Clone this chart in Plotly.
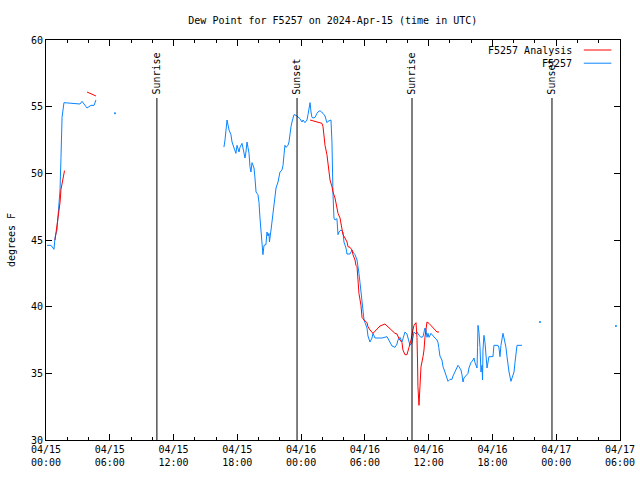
import pandas as pd
import plotly.graph_objects as go

BASE = pd.Timestamp("2024-04-15 00:00")

# Observed dew point (F5257), hours after 04/15 00:00 UTC; None = gap
obs_hours = [0.1, 0.47, 0.75, 0.85, 1.03, 1.22, 1.32, 1.41, 1.51, 1.69, 2.82, 3.20, 3.39, 3.86, 4.23, 4.52, 4.70,
             None,
             16.74, 16.84, 17.03, 17.12, 17.22, 17.40, 17.50, 17.69, 17.87, 17.97, 18.06, 18.16, 18.25, 18.44, 18.53,
             18.72, 18.81, 18.91, 19.00, 19.10, 19.19, 19.28, 19.38, 19.57, 19.66, 19.76, 19.94, 20.04, 20.13, 20.23,
             20.32, 20.41, 20.51, 20.69, 20.79, 20.88, 20.98, 21.02, 21.17, 21.26, 21.36, 21.45, 21.54, 21.64, 21.83,
             21.92, 22.01, 22.20, 22.30, 22.39, 22.48, 22.58, 22.77, 22.86, 22.95, 23.05, 23.14, 23.24, 23.33, 23.52,
             23.71, 23.89, 24.08, 24.18, 24.36, 24.55, 24.65, 24.74, 24.84, 24.93, 25.02, 25.12, 25.31, 25.49, 25.59,
             25.78, 25.96, 26.06, 26.25, 26.43, 26.53, 26.72, 26.81, 26.90, 26.95, 27.00, 27.09, 27.19, 27.37, 27.47,
             27.56, 27.75, 27.94, 28.03, 28.22, 28.32, 28.60, 28.79, 28.88, 29.07, 29.26, 29.35, 29.44, 29.54, 29.63,
             29.73, 29.82, 29.92, 30.01, 30.20, 30.29, 30.48, 30.67, 30.76, 30.95, 31.23, 31.61, 32.08, 32.27, 32.46,
             32.55, 32.83, 33.02, 33.11, 33.30, 33.49, 33.58, 33.77, 33.96, 34.05, 34.24, 34.43, 34.52, 34.62, 34.81,
             34.90, 35.09, 35.28, 35.47, 35.56, 35.65, 35.75, 35.84, 35.94, 36.03, 36.22, 36.31, 36.50, 36.59, 36.78,
             36.88, 36.95, 37.06, 37.25, 37.35, 37.53, 37.72, 37.82, 38.00, 38.19, 38.29, 38.47, 38.66, 38.76, 38.85,
             39.04, 39.13, 39.23, 39.32, 39.51, 39.70, 39.79, 39.98, 40.17, 40.26, 40.36, 40.55, 40.60, 40.64, 40.73,
             40.83, 40.92, 41.02, 41.07, 41.11, 41.20, 41.30, 41.49, 41.58, 41.67, 41.86, 42.05, 42.14, 42.33, 42.52,
             42.62, 42.71, 42.80, 42.95, 42.99, 43.09, 43.27, 43.37, 43.46, 43.56, 43.74, 43.84, 43.93, 44.03, 44.12,
             44.27, 44.31, 44.78]
obs_values = [44.6, 44.6, 44.3, 45.2, 45.75, 47.6, 48.75, 51.2, 54.2, 55.3, 55.2, 55.2, 55.4, 54.9, 55.1, 55.1, 55.5,
              None,
              51.97, 52.5, 54.0, 53.6, 53.25, 52.9, 52.35, 51.9, 51.5, 52.1, 51.8, 51.6, 51.95, 52.25, 51.9,
              51.15, 51.6, 52.35, 51.95, 51.5, 50.5, 50.1, 50.8, 50.4, 49.65, 48.6, 48.4, 47.8, 46.65, 45.4,
              44.25, 43.9, 44.6, 44.65, 45.6, 45.3, 45.5, 44.85, 45.75, 46.35, 47.0, 47.8, 48.4, 48.9, 49.35,
              49.9, 50.1, 50.25, 50.6, 51.4, 52.1, 51.95, 52.1, 52.35, 53.0, 53.5, 53.85, 54.2, 54.4, 54.35,
              54.2, 54.1, 53.85, 54.0, 53.8, 54.0, 54.4, 54.9, 55.3, 54.6, 54.2, 54.15, 54.2, 54.5, 54.6,
              54.7, 54.6, 54.5, 54.3, 53.8, 53.9, 54.0, 54.0, 52.35, 49.1, 48.4, 46.65, 46.5, 46.6, 45.4,
              45.6, 45.75, 45.6, 44.85, 44.4, 43.95, 43.95, 44.25, 44.1, 43.9, 43.5, 43.1, 42.5, 41.8, 41.0,
              40.3, 39.6, 39.0, 38.8, 38.4, 37.8, 37.35, 37.65, 38.0, 37.65, 37.65, 37.65, 37.75, 37.5, 37.2,
              37.05, 36.95, 37.2, 37.5, 37.7, 37.35, 37.6, 38.1, 37.95, 37.65, 37.1, 37.3, 37.7, 38.1, 37.95,
              38.1, 37.85, 37.7, 37.75, 38.1, 38.4, 38.25, 37.7, 38.0, 37.7, 38.0, 37.9, 37.7, 37.65, 37.5,
              37.3, 36.95, 36.3, 36.0, 35.5, 35.1, 34.7, 34.4, 34.55, 34.55, 34.8, 35.1, 35.5, 35.6, 35.5,
              35.25, 34.9, 34.35, 34.65, 34.8, 35.0, 35.4, 35.8, 36.0, 36.15, 35.8, 35.4, 36.95, 38.6, 38.1,
              36.95, 35.1, 35.6, 34.5, 36.75, 37.85, 37.3, 35.4, 35.8, 36.25, 36.25, 36.25, 37.1, 37.1, 37.1,
              36.9, 36.25, 37.1, 37.7, 38.0, 37.65, 36.95, 36.25, 35.6, 35.1, 34.4, 34.65, 34.9, 35.1, 35.8,
              36.6, 37.1, 37.1]

# Isolated observations
dot_hours = [6.49, 46.47, 53.62]
dot_values = [54.5, 38.85, 38.55]

# Analysis (F5257 Analysis)
ana_hours = [0.85, 1.03, 1.18, 1.32, 1.41, 1.55, 1.74,
             None,
             3.86, 4.70,
             None,
             24.84, 25.31, 25.78, 25.96, 26.06, 26.15, 26.25, 26.43, 26.53, 26.62, 26.72, 26.90, 27.00, 27.19,
             27.37, 27.47, 27.66, 27.84, 27.94, 28.13, 28.32, 28.41, 28.60, 28.79, 28.88, 29.07, 29.16, 29.26,
             29.35, 29.44, 29.63, 29.73, 29.92, 30.20, 30.29, 30.48, 30.76, 31.14, 31.42, 31.89, 32.17, 32.55,
             32.83, 33.02, 33.21, 33.49, 33.58, 33.77, 33.96, 34.15, 34.34, 34.52, 34.62, 34.81, 34.90, 34.95,
             34.99, 35.09, 35.18, 35.28, 35.47, 35.56, 35.65, 35.75, 35.84, 36.03, 36.31, 36.50, 36.78, 36.97]
ana_values = [45.0, 46.0, 47.0, 47.8, 48.8, 49.5, 50.2,
              None,
              56.1, 55.8,
              None,
              54.0, 53.9, 53.8, 53.75, 53.5, 52.9, 52.1, 51.4, 50.8, 50.1, 49.5, 49.0, 48.6, 48.15,
              47.5, 47.0, 46.65, 46.0, 45.4, 45.15, 44.85, 44.5, 44.45, 44.25, 43.9, 43.5, 43.1, 43.0,
              42.0, 41.0, 40.1, 39.2, 39.0, 38.8, 38.5, 38.25, 38.0, 38.3, 38.55, 38.7, 38.5, 38.25,
              38.0, 37.95, 37.6, 37.3, 36.75, 36.4, 36.4, 36.95, 37.5, 38.25, 38.6, 38.8, 37.7, 36.0,
              34.0, 32.6, 34.5, 35.5, 36.25, 36.75, 37.7, 38.6, 38.85, 38.75, 38.5, 38.3, 38.1, 38.1]

# Sunrise / sunset markers (UTC)
sun_labels = ["Sunrise", "Sunset", "Sunrise", "Sunset"]
sun_times = ["2024-04-15 10:26", "2024-04-15 23:37", "2024-04-16 10:26", "2024-04-16 23:36"]


def to_time(hours):
    return [None if h is None else BASE + pd.Timedelta(hours=h) for h in hours]


FONT = "DejaVu Sans Mono"
RED = "#ff0000"
BLUE = "#0a84ff"

fig = go.Figure()
fig.add_trace(go.Scatter(x=to_time(obs_hours), y=obs_values, mode="lines",
                         line=dict(color=BLUE, width=1), connectgaps=False, name="F5257"))
fig.add_trace(go.Scatter(x=to_time(dot_hours), y=dot_values, mode="markers",
                         marker=dict(color=BLUE, size=2), showlegend=False))
fig.add_trace(go.Scatter(x=to_time(ana_hours), y=ana_values, mode="lines",
                         line=dict(color=RED, width=1), connectgaps=False, name="F5257 Analysis"))

for lab, t in zip(sun_labels, sun_times):
    fig.add_shape(type="line", x0=t, x1=t, y0=30, y1=55.65, xref="x", yref="y",
                  line=dict(color="black", width=1))
    fig.add_annotation(x=t, y=55.75, xref="x", yref="y", text=lab, textangle=-90,
                       showarrow=False, xanchor="center", yanchor="bottom",
                       font=dict(family=FONT, size=10, color="black"))

# gnuplot-style legend (text then line sample)
for i, (name, col) in enumerate([("F5257 Analysis", RED), ("F5257", BLUE)]):
    yp = 0.975 - i * 0.033
    fig.add_annotation(x=0.92, y=yp, xref="paper", yref="paper", text=name, showarrow=False,
                       xanchor="right", yanchor="middle", font=dict(family=FONT, size=10, color="black"))
    fig.add_shape(type="line", x0=0.937, x1=0.985, y0=yp, y1=yp, xref="paper", yref="paper",
                  line=dict(color=col, width=1))

fig.update_layout(
    width=640, height=480,
    margin=dict(l=46, r=20, t=40, b=40, autoexpand=False),
    paper_bgcolor="white", plot_bgcolor="white",
    showlegend=False, hovermode=False,
    font=dict(family=FONT, size=10, color="black"),
    title=dict(text="Dew Point for F5257 on 2024-Apr-15 (time in UTC)", x=0.52, xanchor="center",
               y=0.958, yanchor="middle", font=dict(family=FONT, size=10, color="black")),
)
fig.update_xaxes(
    type="date", range=["2024-04-15 00:00", "2024-04-17 06:00"], automargin=False,
    dtick=6 * 3600 * 1000, tick0="2024-04-15 00:00", tickformat="%m/%d<br>%H:%M",
    ticks="inside", ticklen=6, tickcolor="black", showgrid=False, zeroline=False,
    showline=True, linecolor="black", linewidth=1, mirror="allticks",
    minor=dict(dtick=2 * 3600 * 1000, ticks="inside", ticklen=3, tickcolor="black"),
    tickfont=dict(family=FONT, size=10, color="black"),
)
fig.update_yaxes(
    range=[30, 60], dtick=5, ticks="inside", ticklen=6, tickcolor="black", automargin=False,
    showgrid=False, zeroline=False, showline=True, linecolor="black", linewidth=1, mirror="allticks",
    title=dict(text="degrees F", font=dict(family=FONT, size=10, color="black"), standoff=13),
    tickfont=dict(family=FONT, size=10, color="black"),
)

fig.write_html("out.html", config={"displayModeBar": False, "staticPlot": True},
               post_script="document.body.style.margin='0px';document.body.style.padding='0px';")
